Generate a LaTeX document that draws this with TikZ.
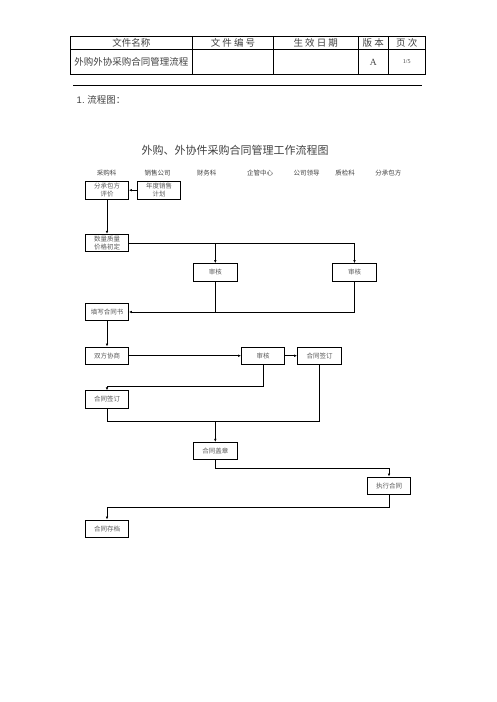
\documentclass[tikz,border=0pt]{standalone}
\usepackage{fontspec}
\setmainfont{Liberation Serif}
\newfontfamily\cjk{Noto Sans CJK SC}
\usetikzlibrary{arrows.meta}

\def\boxw{43pt}

\begin{document}
\begin{tikzpicture}[x=1pt,y=-1pt,line width=0.8pt,->,>={Latex[length=3pt,width=2.6pt]}]
    \tikzstyle{step box}=[draw,rectangle,minimum width=\boxw,minimum height=17.5pt,inner sep=0pt,
        font=\cjk\fontsize{6.5}{7.5}\selectfont,text=black!65,align=center]
    \tikzstyle{head}=[font=\cjk\fontsize{9.5}{11}\selectfont,text=black!75]
    \tikzstyle{dept}=[font=\cjk\fontsize{6.5}{8}\selectfont,text=black!75]

    \useasboundingbox (0,0) rectangle (496,702);

    % Draw the header table
    \draw[-,line width=0.6pt] (70,36.7) rectangle (425,74.3);
    \draw[-,line width=0.6pt] (70,49) -- (425,49);
    \foreach \x in {192.7,273.3,358.3,388.3}
        \draw[-,line width=0.6pt] (\x,36.7) -- (\x,74.3);
    \node[head] (h1) at (131.3,43) {文件名称};
    \node[head] (h2) at (233,43) {文\ 件\ 编\ 号};
    \node[head] (h3) at (315.8,43) {生\ 效\ 日\ 期};
    \node[head] (h4) at (373.3,43) {版\ 本};
    \node[head] (h5) at (406.7,43) {页\ 次};
    \node[head] (r1) at (131.3,61.7) {外购外协采购合同管理流程};
    \node[font=\fontsize{9.5}{11}\selectfont,text=black!75] (r4) at (373.3,62) {A};
    \node[font=\fontsize{6}{7}\selectfont,text=black!75] (r5) at (406.7,62) {1/5};
    \draw[-,line width=0.8pt] (73,85.8) -- (421.7,85.8);

    % Section and title
    \node[head,anchor=west] (sec) at (73,100) {\fontspec{Liberation Sans}1.\ \cjk 流程图：};
    \node[font=\cjk\fontsize{11}{13}\selectfont,text=black!75] (title) at (235,150) {外购、外协件采购合同管理工作流程图};

    % Annotate the departments
    \foreach \name/\x in {采购科/106.7,销售公司/157.7,财务科/206.7,企管中心/260,公司领导/306.7,质检科/345,分承包方/388.3}
        \node[dept] at (\x,172.7) {\name};

    % Draw the steps
    \node[step box] (pj) at (107,190.2) {分承包方\\评价};
    \node[step box] (xs) at (159.2,190.2) {年度销售\\计划};
    \node[step box] (cd) at (107,243) {数量质量\\价格初定};
    \node[step box,minimum width=44pt] (sh1) at (215.3,272.3) {审核};
    \node[step box,minimum width=44pt] (sh2) at (354.5,272.3) {审核};
    \node[step box] (tx) at (107,312) {填写合同书};
    \node[step box] (xy) at (107,355.7) {双方协商};
    \node[step box] (sh3) at (263,355.7) {审核};
    \node[step box,minimum width=44pt] (qd2) at (319.5,355.7) {合同签订};
    \node[step box] (qd1) at (107,399.5) {合同签订};
    \node[step box,minimum width=44pt] (gz) at (215.3,451) {合同盖章};
    \node[step box] (zx) at (389,485.7) {执行合同};
    \node[step box] (cd2) at (107,528.7) {合同存档};

    % Connect the steps
    \draw (xs) -- (pj);
    \draw (pj) -- (cd);
    \draw (cd.east) -| (sh1.north);
    \draw (cd.east) -| (sh2.north);
    \draw (sh2.south) |- (tx.east);
    \draw[-] (sh1.south) -- (sh1.south |- tx.east);
    \draw (tx) -- (xy);
    \draw (xy) -- (sh3);
    \draw (sh3) -- (qd2);
    \draw (sh3.south) -- ++(0,21.5) -| (qd1.north);

    % Both signed contracts meet before the seal
    \coordinate (m) at (215.3,421);
    \draw[-] (qd1.south) |- (m);
    \draw[-] (qd2.south) |- (m);
    \draw (m) -- (gz.north);
    \draw (gz.south) -- ++(0,8.3) -| (zx.north);
    \draw (zx.south) -- ++(0,12.6) -| (cd2.north);
\end{tikzpicture}
\end{document}
